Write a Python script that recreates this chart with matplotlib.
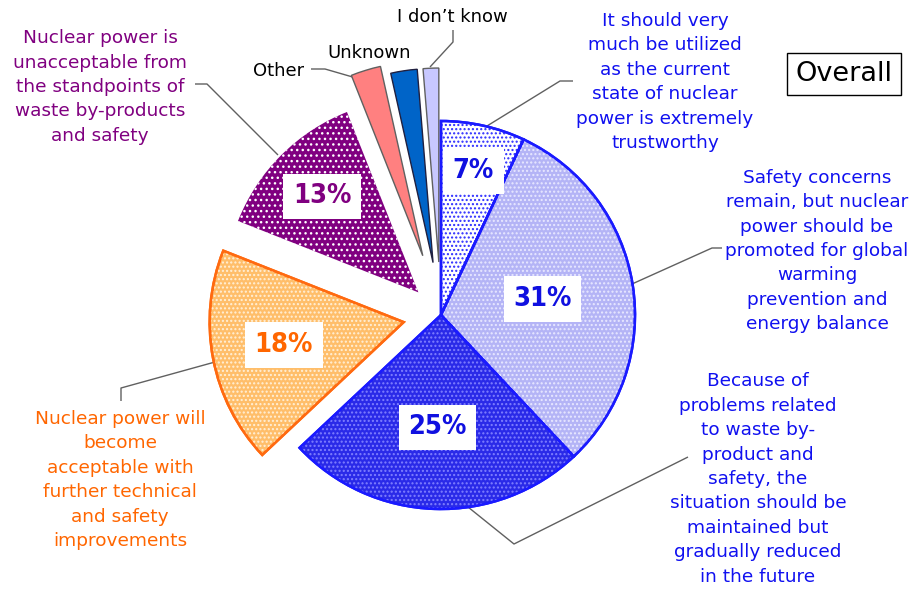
import numpy as np
import matplotlib
matplotlib.use("Agg")
import matplotlib.pyplot as plt
from matplotlib.patches import Wedge
from matplotlib import font_manager

# ---------------- data ----------------
categories = [
    "It should very\nmuch be utilized\nas the current\nstate of nuclear\npower is extremely\ntrustworthy",
    "Safety concerns\nremain, but nuclear\npower should be\npromoted for global\nwarming\nprevention and\nenergy balance",
    "Because of\nproblems related\nto waste by-\nproduct and\nsafety, the\nsituation should be\nmaintained but\ngradually reduced\nin the future",
    "Nuclear power will\nbecome\nacceptable with\nfurther technical\nand safety\nimprovements",
    "Nuclear power is\nunacceptable from\nthe standpoints of\nwaste by-products\nand safety",
    "Other",
    "Unknown",
    "I don\u2019t know",
]
values = [7, 31, 25, 18, 13, 2.5, 2.2, 1.3]
pct_labels = ["7%", "31%", "25%", "18%", "13%", "", "", ""]
title = "Overall"

# ---------------- style ----------------
W, H = 911, 589
CX, CY, R = 441, 315, 194
explode = [0, 0, 0, 38, 32, 62, 53, 53]
faces = ["#ffffff", "#b4b4f6", "#2a2ae8", "#ffbe6a", "#800080", "#ff8080", "#0064c8", "#c8c8ff"]
edges = ["#1a1aff", "#1a1aff", "#1a1aff", "#ff6a10", "#800080", "#606060", "#202040", "#606060"]
text_colors = ["#1010f0", "#1010f0", "#1010f0", "#ff6600", "#800080", "#000000", "#000000", "#000000"]
pct_colors = ["#1010e0", "#1010e0", "#1010e0", "#ff6600", "#800080"]
pct_frac = [0.76, 0.53, 0.58, 0.63, 0.70]

LINE = "#606060"

have_narrow = any("Liberation Sans Narrow" in f.name for f in font_manager.fontManager.ttflist)
pct_family = ["Liberation Sans Narrow", "DejaVu Sans"] if have_narrow else ["DejaVu Sans"]
pct_stretch = "normal" if have_narrow else "condensed"

fig = plt.figure(figsize=(W / 100, H / 100), dpi=100)
ax = fig.add_axes([0, 0, 1, 1])

wedges, _ = ax.pie(values, explode=explode, radius=R, center=(CX, CY),
                   startangle=270, counterclock=True, colors=faces,
                   wedgeprops=dict(linewidth=1.5))
ax.set_xlim(0, W)
ax.set_ylim(H, 0)
ax.set_aspect("equal")
ax.axis("off")

for i, w in enumerate(wedges):
    w.set_edgecolor(edges[i])
    lw = 1.8 if i < 4 else (0.0 if i == 4 else 1.0)
    w.set_linewidth(lw)
    w.set_zorder(2)

# dotted textures
tex = {0: ("#2a2aff", "...."), 4: ("#ffffff", "..."), 2: ("#8080ff", "...."),
       1: ("#e8e8ff", "...."), 3: ("#fff0d8", "....")}
for i, (col, hatch) in tex.items():
    w = wedges[i]
    ov = Wedge(w.center, w.r, w.theta1, w.theta2, facecolor="none",
               edgecolor=col, linewidth=0, hatch=hatch, zorder=2.5)
    ax.add_patch(ov)
    ol = Wedge(w.center, w.r, w.theta1, w.theta2, facecolor="none",
               edgecolor=edges[i], linewidth=(1.8 if i != 4 else 0), zorder=2.6)
    ax.add_patch(ol)

# percentage labels
for i, lab in enumerate(pct_labels):
    if not lab:
        continue
    w = wedges[i]
    th = np.deg2rad(0.5 * (w.theta1 + w.theta2))
    x = w.center[0] + pct_frac[i] * w.r * np.cos(th)
    y = w.center[1] + pct_frac[i] * w.r * np.sin(th)
    ax.text(x, y, lab, ha="center", va="center", fontsize=19.5, fontweight="bold",
            family=pct_family, fontstretch=pct_stretch, color=pct_colors[i], zorder=5,
            bbox=dict(boxstyle="square,pad=0.36", facecolor="white", edgecolor="none"))

# category labels
fs = 13.3
ls = 1.46
label_pos = [(665, 82), (817, 251), (758, 479), (120, 480), (100, 87),
             (279, 71), (369, 53), (452, 17)]
for i, txt in enumerate(categories):
    x, y = label_pos[i]
    ax.text(x, y, txt, ha="center", va="center", fontsize=fs if i < 5 else 13,
            linespacing=ls, color=text_colors[i], family="DejaVu Sans", zorder=5)

# leader lines
leaders = [
    [(487, 126), (560, 81), (573, 81)],
    [(632, 284), (712, 248), (722, 248)],
    [(468, 507), (514, 544), (688, 457)],
    [(215, 362), (121, 388), (121, 401)],
    [(278, 155), (207, 84), (195, 84)],
    [(363, 80), (325, 69), (311, 69)],
    [(430, 67), (453, 42), (453, 30)],
]
for pts in leaders:
    xs, ys = zip(*pts)
    ax.plot(xs, ys, color=LINE, lw=1.0, zorder=1.5, solid_capstyle="butt")

# title box
ax.text(844, 74, title, ha="center", va="center", fontsize=19.5, color="black",
        family="DejaVu Sans", zorder=5,
        bbox=dict(boxstyle="square,pad=0.3", facecolor="white", edgecolor="black", linewidth=1.0))

fig.savefig("out.png", dpi=100)
